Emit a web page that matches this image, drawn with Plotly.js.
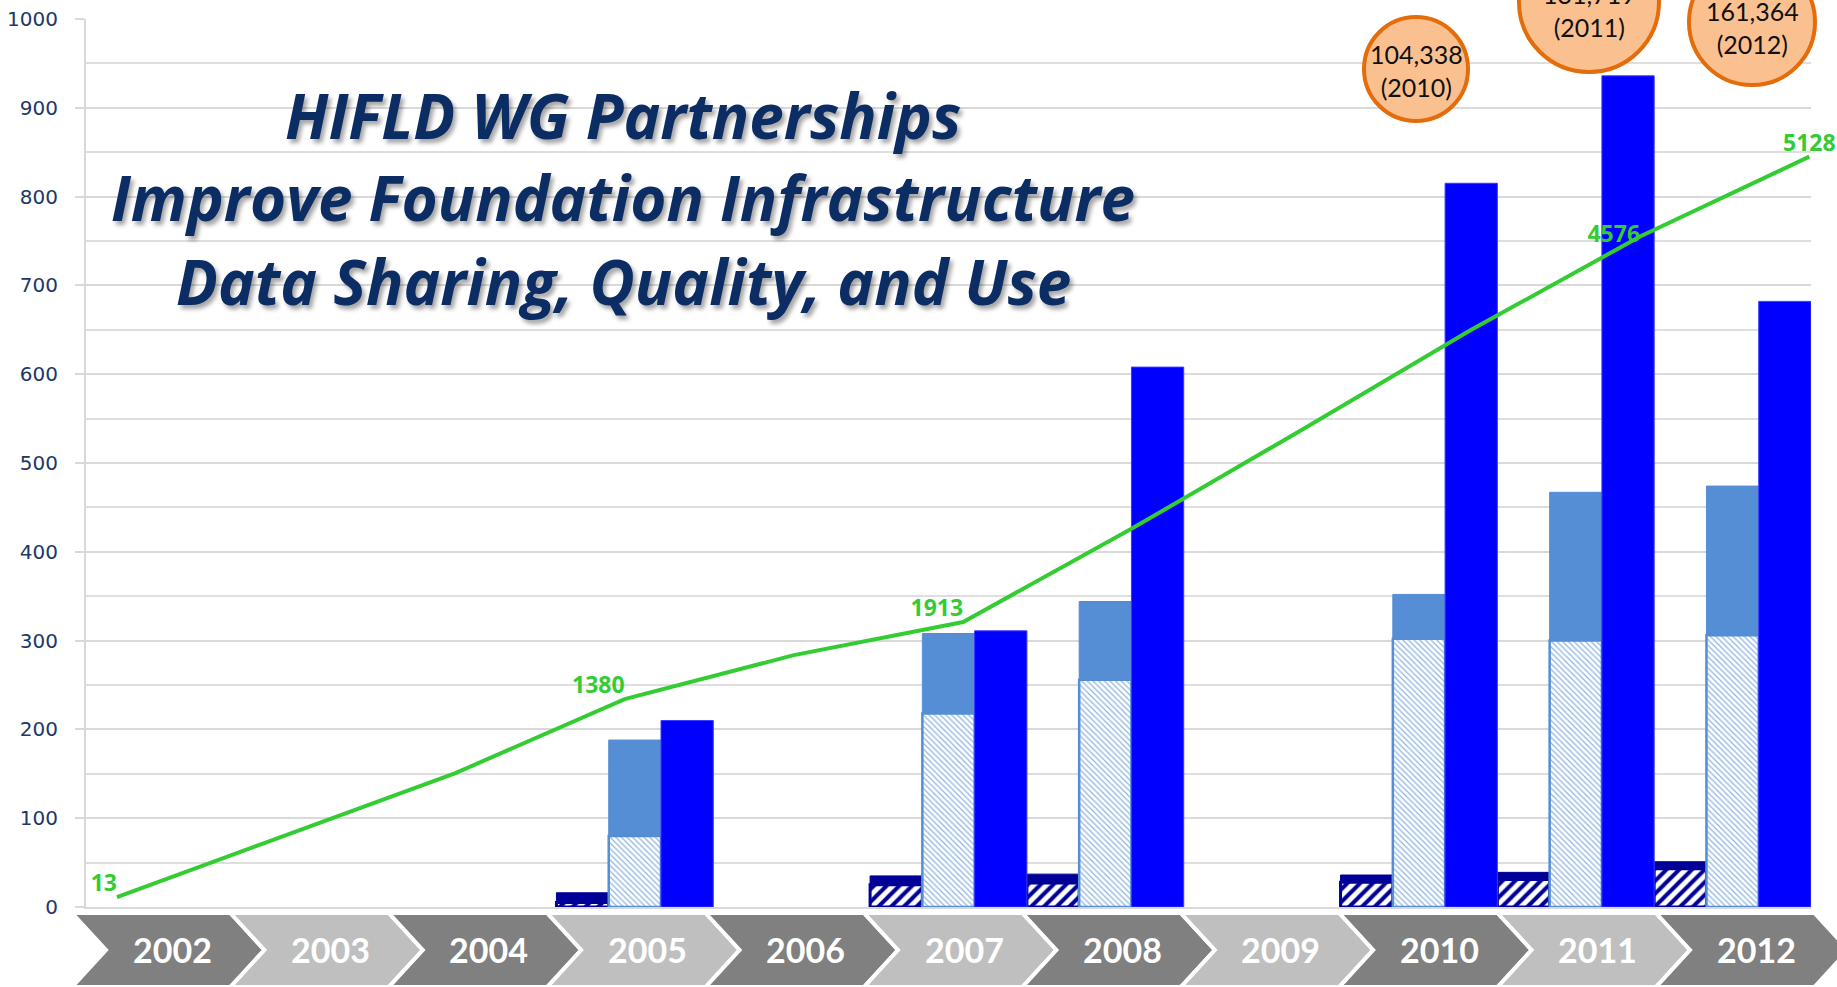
<!DOCTYPE html>
<html>
<head>
<meta charset="utf-8">
<script src="https://cdn.plot.ly/plotly-3.0.1.min.js"></script>
<style>
  html, body { margin: 0; padding: 0; background: #ffffff; }
  #chart { width: 1837px; height: 987px; }
</style>
</head>
<body>
<div id="chart"></div>
<script>
// ---------------- data ----------------
const years = ['2002','2003','2004','2005','2006','2007','2008','2009','2010','2011','2012'];

// navy bar: hatched lower part + solid upper part
const navyHatched = [null, null, null, 5,   null, 25,  27,  null, 28,  31,  43];
const navySolid   = [null, null, null, 11,  null, 10,  10,  null, 8,   8,   8];

// light-blue bar: hatched lower part + solid upper part
const lightHatched = [null, null, null, 80,  null, 218, 256, null, 302, 300, 306];
const lightSolid   = [null, null, null, 108, null, 90,  88,  null, 50,  167, 168];

// bright blue bar
const blueBars = [null, null, null, 210, null, 311, 608, null, 815, 936, 682];

// green cumulative line (secondary axis)
const greenLine   = [13, 444, 869, 1380, 1684, 1913, 2560, 3240, 3930, 4576, 5128];
const lineLabels  = ['13', '', '', '1380', '', '1913', '', '', '', '4576', '5128'];
const lineLabelPos = ['top left','top left','top left','top left','top left','top left',
                      'top left','top left','top left','middle left','top center'];

// bubbles
const bubbleTexts = ['104,338<br>(2010)', '131,719<br>(2011)', '161,364<br>(2012)'];

// title
const titleLines = ['HIFLD WG Partnerships',
                    'Improve Foundation Infrastructure',
                    'Data Sharing, Quality, and Use'];

const yTickVals = [0,100,200,300,400,500,600,700,800,900,1000];

// ---------------- layout helpers ----------------
const W = 1837, H = 987;
const M = {l: 86, r: 26, t: 19, b: 80};
const PW = W - M.l - M.r, PH = H - M.t - M.b;
const px2x = p => (p - M.l) / PW;
const px2y = p => (H - M.b - p) / PH;

const NAVY = '#000099', LIGHT = '#558ED5', BLUE = '#0000FF', GREEN = '#33CC33';

const traces = [
  {
    type: 'bar', x: years, y: navyHatched, offsetgroup: 'a', name: 'navy hatched',
    marker: {color: 'white', line: {color: NAVY, width: 3},
             pattern: {shape: '/', fgcolor: NAVY, bgcolor: 'white', size: 9, solidity: 0.45, fillmode: 'replace'}},
    hoverinfo: 'skip'
  },
  {
    type: 'bar', x: years, y: navySolid, base: navyHatched, offsetgroup: 'a', name: 'navy',
    marker: {color: NAVY, line: {color: NAVY, width: 1}}, hoverinfo: 'skip'
  },
  {
    type: 'bar', x: years, y: lightHatched, offsetgroup: 'b', name: 'light hatched',
    marker: {color: 'white', line: {color: LIGHT, width: 2.5},
             pattern: {shape: '\\', fgcolor: '#8DB4E2', bgcolor: 'white', size: 4, solidity: 0.3, fillmode: 'replace'}},
    hoverinfo: 'skip'
  },
  {
    type: 'bar', x: years, y: lightSolid, base: lightHatched, offsetgroup: 'b', name: 'light',
    marker: {color: LIGHT, line: {color: LIGHT, width: 1}}, hoverinfo: 'skip'
  },
  {
    type: 'bar', x: years, y: blueBars, offsetgroup: 'c', name: 'blue',
    marker: {color: BLUE, line: {color: '#3A3AFF', width: 1}}, hoverinfo: 'skip'
  },
  {
    type: 'scatter', mode: 'lines+text', x: years, y: greenLine, xaxis: 'x2', yaxis: 'y2',
    line: {color: GREEN, width: 4}, text: lineLabels, textposition: lineLabelPos,
    textfont: {family: 'Open Sans, Lato, sans-serif', size: 23, color: GREEN, weight: 'bold'},
    cliponaxis: false, hoverinfo: 'skip'
  }
];

// ---------------- chevrons ----------------
const shapes = [];
const annotations = [];
const chevStart = 72, chevStep = 158.4, chevPoint = 34;
const chevTop = 913, chevMid = 950, chevBot = 987;
years.forEach((yr, i) => {
  const L = chevStart + chevStep * i;
  const R = L + chevStep;
  const pts = [
    [L, chevTop], [R, chevTop], [R + chevPoint, chevMid], [R, chevBot],
    [L, chevBot], [L + chevPoint, chevMid]
  ];
  const path = 'M ' + pts.map(p => px2x(p[0]).toFixed(5) + ',' + px2y(p[1]).toFixed(5)).join(' L ') + ' Z';
  shapes.push({
    type: 'path', xref: 'paper', yref: 'paper', path: path,
    fillcolor: i % 2 === 0 ? '#808080' : '#BFBFBF',
    line: {color: 'white', width: 4}, layer: 'above'
  });
  annotations.push({
    xref: 'paper', yref: 'paper', x: px2x(L + 100), y: px2y(chevMid),
    xanchor: 'center', yanchor: 'middle', showarrow: false, text: yr,
    font: {family: 'Lato, Open Sans, sans-serif', size: 34, color: 'white', weight: 'bold'}
  });
});

// ---------------- bubbles ----------------
const bubbles = [
  {cx: 1416, cy: 69, r: 52, ty: 71},
  {cx: 1589, cy: 2,  r: 70, ty: 10},
  {cx: 1752, cy: 22, r: 63, ty: 27}
];
bubbles.forEach((b, i) => {
  shapes.push({
    type: 'circle', xref: 'paper', yref: 'paper',
    xsizemode: 'pixel', ysizemode: 'pixel',
    xanchor: px2x(b.cx), yanchor: px2y(b.cy),
    x0: -b.r, x1: b.r, y0: -b.r, y1: b.r,
    fillcolor: '#FAC090', line: {color: '#E46C0A', width: 4}, layer: 'above'
  });
  annotations.push({
    xref: 'paper', yref: 'paper', x: px2x(b.cx), y: px2y(b.ty),
    xanchor: 'center', yanchor: 'middle', showarrow: false, align: 'center',
    text: bubbleTexts[i],
    font: {family: 'Lato, Open Sans, sans-serif', size: 25, color: '#111111'}
  });
});

// ---------------- title ----------------
const titleY = [115, 197, 281];
titleLines.forEach((t, i) => {
  annotations.push({
    xref: 'paper', yref: 'paper', x: px2x(623), y: px2y(titleY[i]),
    xanchor: 'center', yanchor: 'middle', showarrow: false, text: t,
    font: {family: 'Open Sans, Lato, sans-serif', size: 62, color: '#0B2D64',
           weight: 'bold', style: 'italic', shadow: '3px 4px 4px rgba(0,0,0,0.35)'}
  });
});

const layout = {
  width: W, height: H,
  margin: M,
  paper_bgcolor: 'white', plot_bgcolor: 'white',
  showlegend: false,
  barmode: 'group', bargap: 0, bargroupgap: 0,
  xaxis: {
    type: 'category', range: [-0.5, 10.5], showticklabels: false, ticks: '',
    showgrid: false, zeroline: false, showline: true, linecolor: '#D9D9D9', linewidth: 2,
    fixedrange: true
  },
  yaxis: {
    range: [0, 1000], tickvals: yTickVals, ticks: 'outside', ticklen: 9, tickwidth: 2,
    tickcolor: '#D9D9D9', showgrid: true, gridcolor: '#D9D9D9', gridwidth: 2,
    minor: {dtick: 50, showgrid: true, gridcolor: '#DEDEDE', gridwidth: 2, ticks: ''},
    zeroline: false, showline: true, linecolor: '#D9D9D9', linewidth: 2,
    ticklabelstandoff: 13,
    tickfont: {family: 'DejaVu Sans, Verdana, sans-serif', size: 20, color: '#203864'},
    fixedrange: true
  },
  xaxis2: {
    type: 'category', overlaying: 'x', anchor: 'y2', range: [-0.183, 10.01],
    visible: false, fixedrange: true
  },
  yaxis2: {
    overlaying: 'y', anchor: 'x2', side: 'right', range: [-56, 6079],
    visible: false, fixedrange: true
  },
  shapes: shapes,
  annotations: annotations
};

Plotly.newPlot('chart', traces, layout, {displayModeBar: false, staticPlot: true});
</script>
</body>
</html>
